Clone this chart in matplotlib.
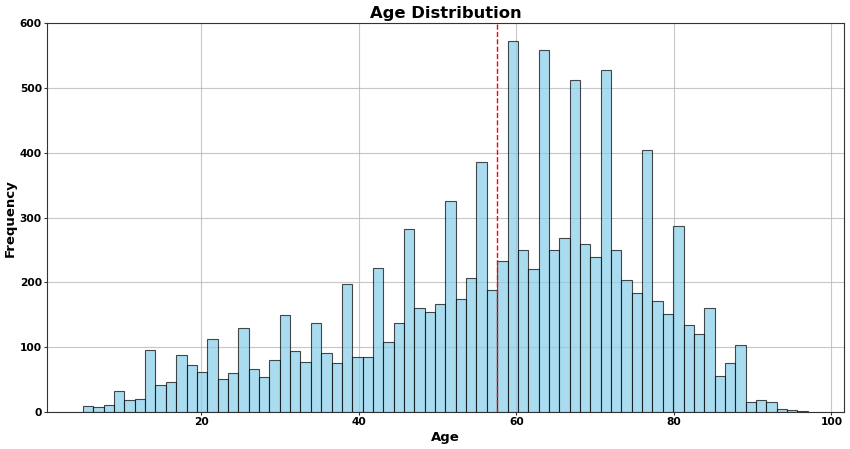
import numpy as np
import matplotlib
matplotlib.use("Agg")
import matplotlib.pyplot as plt

# Data: 70 equal bins between age 5 and 97
age_min = 5
age_max = 97
n_bins = 70
counts = [10, 7, 11, 33, 19, 20, 95, 42, 47, 88,
          72, 61, 113, 51, 60, 130, 66, 54, 81, 150,
          94, 77, 138, 91, 75, 197, 85, 85, 222, 108,
          137, 283, 161, 155, 166, 325, 174, 207, 386, 188,
          233, 572, 250, 221, 559, 250, 268, 512, 260, 240,
          528, 250, 204, 184, 404, 172, 151, 287, 134, 121,
          161, 55, 76, 104, 16, 19, 16, 5, 3, 2]
mean_age = 57.6

edges = np.linspace(age_min, age_max, n_bins + 1)
centers = (edges[:-1] + edges[1:]) / 2

fig = plt.figure(figsize=(8.5, 4.49), dpi=100)
ax = fig.add_axes([0.055, 0.0824, 0.938, 0.8656])

ax.hist(centers, bins=edges, weights=counts, color="skyblue",
        edgecolor="black", alpha=0.7, linewidth=0.8, zorder=2)
ax.axvline(mean_age, color="red", linestyle="--", linewidth=1, zorder=3)

ax.set_ylim(0, 600)
ax.set_xticks([20, 40, 60, 80, 100])
ax.set_yticks([0, 100, 200, 300, 400, 500, 600])
ax.grid(True, color="#b0b0b0", linewidth=0.8, alpha=0.7, zorder=0)
ax.set_axisbelow(True)
for sp in ax.spines.values():
    sp.set_color("#333333")

ax.set_title("Age Distribution", fontsize=11.8, fontweight="bold", pad=4)
ax.set_xlabel("Age", fontsize=9.5, fontweight="bold", labelpad=3)
ax.set_ylabel("Frequency", fontsize=9.5, fontweight="bold", labelpad=2)
for lab in ax.get_xticklabels() + ax.get_yticklabels():
    lab.set_fontsize(7.7)
    lab.set_fontweight("bold")
ax.tick_params(length=2, pad=1.5, color="#333333")

fig.savefig("out.png", dpi=100)
